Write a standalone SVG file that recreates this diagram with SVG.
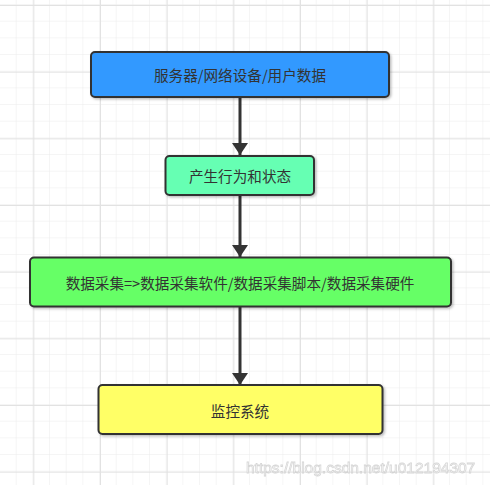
<svg xmlns="http://www.w3.org/2000/svg" width="490" height="485" viewBox="0 0 490 485">
<defs>
<pattern id="minor" width="16.667" height="16.667" patternUnits="userSpaceOnUse" x="0" y="5">
<path d="M16.667 0V16.667M0 16.667H16.667" fill="none" stroke="#ececec" stroke-width="1"/>
</pattern>
<pattern id="major" width="66.667" height="66.667" patternUnits="userSpaceOnUse" x="33.333" y="5">
<path d="M0.5 0V66.667M0 0.5H66.667" fill="none" stroke="#e2e2e2" stroke-width="1"/>
</pattern>
<marker id="arr" viewBox="0 0 12 16" refX="12" refY="8" markerWidth="12" markerHeight="16" markerUnits="userSpaceOnUse" orient="auto">
<path d="M0 0L12 8L0 16Z" fill="#333"/>
</marker>
<filter id="sh" x="-10%" y="-10%" width="120%" height="130%">
<feDropShadow dx="1.5" dy="1.5" stdDeviation="0.8" flood-color="#000" flood-opacity="0.25"/>
</filter>
</defs>
<style>
.box{stroke:#333;stroke-width:2;filter:url(#sh)}
.t{font-family:"Microsoft YaHei","Noto Sans CJK SC",sans-serif;font-size:14.6px;fill:#333;text-anchor:middle;dominant-baseline:central}
.c{stroke:#333;stroke-width:3;fill:none}
</style>
<rect width="490" height="485" fill="#fff"/>
<rect width="490" height="485" fill="url(#minor)"/>
<rect width="490" height="485" fill="url(#major)"/>
<g id="connectors">
<line class="c" x1="240" y1="98" x2="240" y2="155" marker-end="url(#arr)"/>
<line class="c" x1="240" y1="196" x2="240" y2="257" marker-end="url(#arr)"/>
<line class="c" x1="240" y1="307" x2="240" y2="385" marker-end="url(#arr)"/>
</g>
<g id="node1">
<rect class="box" x="91" y="52" width="298" height="45" rx="4" fill="#3399ff"/>
<text class="t" x="240" y="74.5">服务器/网络设备/用户数据</text>
</g>
<g id="node2">
<rect class="box" x="165.5" y="156" width="148.5" height="39" rx="4" fill="#66ffb3"/>
<text class="t" x="240" y="175.5">产生行为和状态</text>
</g>
<g id="node3">
<rect class="box" x="30" y="257.5" width="421" height="49" rx="4" fill="#66ff66"/>
<text class="t" x="240" y="282">数据采集=&gt;数据采集软件/数据采集脚本/数据采集硬件</text>
</g>
<g id="node4">
<rect class="box" x="98.5" y="385" width="284" height="49" rx="4" fill="#ffff66"/>
<text class="t" x="240" y="410">监控系统</text>
</g>
<text x="246" y="473" font-family="Liberation Sans, Arial, sans-serif" font-size="15.5px" fill="#ffffff" stroke="#d2d2d2" stroke-width="0.8" opacity="0.9">https://blog.csdn.net/u012194307</text>
</svg>
